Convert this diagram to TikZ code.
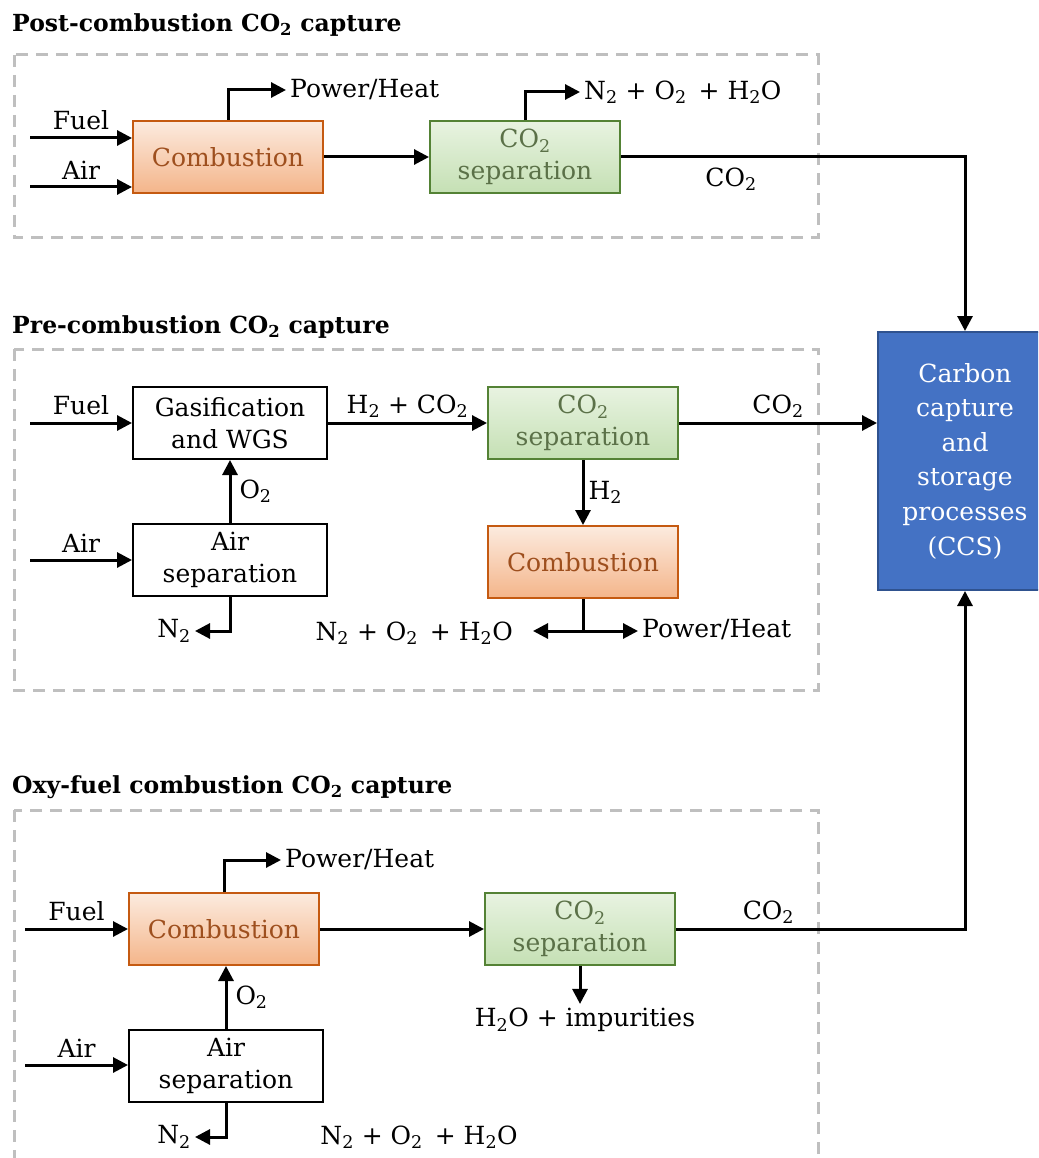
\documentclass[tikz,border=0pt]{standalone}
\usepackage{fontspec}
\setmainfont{DejaVu Serif}
\usepackage{xcolor}
\usetikzlibrary{arrows.meta,positioning}

\definecolor{combdraw}{HTML}{C55A11}
\definecolor{combtop}{HTML}{FCEBDF}
\definecolor{combbot}{HTML}{F4B58A}
\definecolor{combtext}{HTML}{9E4F1E}
\definecolor{sepdraw}{HTML}{548235}
\definecolor{septop}{HTML}{E8F3E1}
\definecolor{sepbot}{HTML}{C5E0B4}
\definecolor{septext}{HTML}{5B7148}
\definecolor{ccsfill}{HTML}{4472C4}
\definecolor{ccsdraw}{HTML}{2F528F}
\definecolor{frame}{HTML}{BFBFBF}

\newcommand{\cotwo}{CO\textsubscript{2}}
\newcommand{\exhaust}{N\textsubscript{2} + O\textsubscript{2}\hspace{4pt} + H\textsubscript{2}O}

\begin{document}
\begin{tikzpicture}[x=1pt,y=-1pt,
   font=\fontsize{25}{32}\selectfont,
   proc/.style={draw,line width=2pt,minimum width=190pt,minimum height=72pt,
      align=center,inner sep=2pt},
   comb/.style={proc,draw=combdraw,top color=combtop,bottom color=combbot,text=combtext},
   sepbox/.style={proc,draw=sepdraw,top color=septop,bottom color=sepbot,text=septext},
   plainbox/.style={proc,draw=black,fill=white,minimum width=194pt},
   flow/.style={line width=3pt,-{Triangle[length=15pt,width=15pt]}},
   pipe/.style={line width=3pt},
   lbl/.style={inner sep=4pt},
   title/.style={anchor=west,inner sep=0pt,font=\fontsize{23.5}{28}\selectfont\bfseries},
   frame/.style={draw=frame,line width=3pt,dash pattern=on 12pt off 8pt}]
\path[use as bounding box,clip] (0,0) rectangle (1038,1158);

% frames and titles
\node[title] (t1) at (12,25) {Post-combustion \cotwo{} capture};
\node[title] (t2) at (12,327) {Pre-combustion \cotwo{} capture};
\node[title] (t3) at (12,787) {Oxy-fuel combustion \cotwo{} capture};
\draw[frame] (14,55) rectangle (818,238);
\draw[frame] (14,349) rectangle (818,690);
\draw[frame] (14,810) rectangle (818,1200);

% CCS
\node[draw=ccsdraw,line width=2pt,fill=ccsfill,text=white,minimum width=174pt,
   minimum height=258pt,align=center,font=\fontsize{25}{34.6}\selectfont]
   (ccs) at (965,461) {Carbon\\capture\\and\\storage\\processes\\(CCS)};

% post-combustion
\node[comb] (comb1) at (228,157) {Combustion};
\node[sepbox] (sep1) at (525,157) {\cotwo\\separation};
\coordinate (fuel1) at (30,138);
\coordinate (air1) at (30,187);
\node[lbl,anchor=west] (pw1) at (286,90) {Power/Heat};
\node[lbl,anchor=west] (ex1) at (580,92) {\exhaust};
\draw[flow] (fuel1) -- node[lbl,above,yshift=3pt] {Fuel} (fuel1 -| comb1.west);
\draw[flow] (air1) -- node[lbl,above,yshift=2pt] {Air} (air1 -| comb1.west);
\draw[flow] (comb1.north) |- (pw1.west);
\draw[flow] (comb1) -- (sep1);
\draw[flow] (sep1.north) |- (ex1.west);
\draw[flow] (sep1.east) -| node[lbl,pos=0.16,below,yshift=-5pt] {\cotwo} (ccs.north);

% pre-combustion
\node[plainbox] (gas2) at (230,423) {Gasification\\and WGS};
\node[sepbox] (sep2) at (583,423) {\cotwo\\separation};
\node[comb] (comb2) at (583,562) {Combustion};
\node[plainbox] (asep2) at (230,560) {Air\\separation};
\coordinate (fuel2) at (30,423);
\coordinate (air2) at (30,560);
\coordinate (split2) at (583,631);
\node[lbl,anchor=east,inner xsep=20pt] (ex2) at (533,633) {\exhaust};
\node[lbl,anchor=west] (pw2) at (638,630) {Power/Heat};
\node[lbl,anchor=east] (n2b) at (195,631) {N\textsubscript{2}};
\draw[flow] (fuel2) -- node[lbl,above,yshift=3pt] {Fuel} (fuel2 -| gas2.west);
\draw[flow] (air2) -- node[lbl,above,yshift=2pt] {Air} (air2 -| asep2.west);
\draw[flow] (gas2) -- node[lbl,above] {H\textsubscript{2} + \cotwo} (sep2);
\draw[flow] (sep2.east) -- node[lbl,above] {\cotwo} (sep2.east -| ccs.west);
\draw[flow] (sep2) -- node[lbl,right] {H\textsubscript{2}} (comb2);
\draw[flow] (asep2) -- node[lbl,right,xshift=4pt] {O\textsubscript{2}} (gas2);
\draw[flow] (asep2.south) |- (n2b.east);
\draw[pipe] (comb2.south) -- (split2);
\draw[flow] (split2) -- (split2 -| ex2.east);
\draw[flow] (split2) -- (split2 -| pw2.west);

% oxy-fuel combustion
\node[comb] (comb3) at (224,929) {Combustion};
\node[sepbox] (sep3) at (580,929) {\cotwo\\separation};
\node[plainbox] (asep3) at (226,1066) {Air\\separation};
\coordinate (fuel3) at (25,929);
\coordinate (air3) at (25,1065);
\node[lbl,anchor=west] (pw3) at (281,860) {Power/Heat};
\node[lbl] (imp3) at (585,1020) {H\textsubscript{2}O + impurities};
\node[lbl,anchor=east] (n2c) at (195,1137) {N\textsubscript{2}};
\node[lbl] (ex3) at (419,1137) {\exhaust};
\draw[flow] (fuel3) -- node[lbl,above,yshift=3pt] {Fuel} (fuel3 -| comb3.west);
\draw[flow] (air3) -- node[lbl,above,yshift=2pt] {Air} (air3 -| asep3.west);
\draw[flow] (comb3.north) |- (pw3.west);
\draw[flow] (comb3) -- (sep3);
\draw[flow] (asep3.north) -- node[lbl,right,xshift=4pt] {O\textsubscript{2}} (asep3.north |- comb3.south);
\draw[flow] (asep3.south) |- (n2c.east);
\draw[flow] (sep3.south) -- (sep3.south |- imp3.north);
\draw[flow] (sep3.east) -| node[lbl,pos=0.16,above] {\cotwo} (ccs.south);
\end{tikzpicture}
\end{document}
